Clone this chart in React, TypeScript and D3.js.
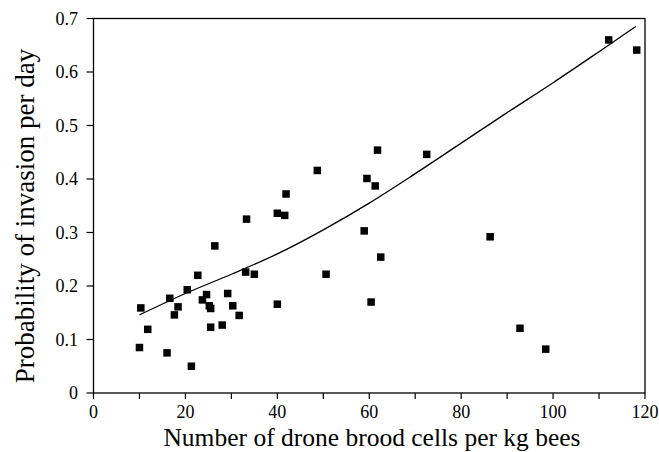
import React from 'react';
import * as d3 from 'd3';

// drone brood cells per kg bees vs probability of invasion per day
const cellsPerKg = [
  10.3, 11.8, 10.0, 16.0, 16.6, 17.6, 18.4, 20.4, 21.3, 22.7, 23.7, 24.6,
  25.2, 25.5, 25.5, 26.4, 28.0, 29.2, 30.3, 31.7, 33.3, 33.1, 35.0, 40.0,
  41.6, 41.9, 40.0, 48.7, 50.6, 58.9, 59.5, 60.4, 61.3, 61.8, 62.5, 72.5,
  86.3, 92.8, 98.4, 112.1, 118.2,
];
const invasionProb = [
  0.159, 0.119, 0.085, 0.075, 0.177, 0.146, 0.161, 0.193, 0.050, 0.220, 0.174, 0.184,
  0.163, 0.158, 0.123, 0.275, 0.127, 0.186, 0.163, 0.145, 0.325, 0.226, 0.222, 0.336,
  0.332, 0.372, 0.166, 0.416, 0.222, 0.303, 0.401, 0.170, 0.387, 0.454, 0.254, 0.446,
  0.292, 0.121, 0.082, 0.660, 0.641,
];

// fitted curve
const fitX = [10, 20, 30, 40, 50, 60, 70, 80, 90, 100, 110, 118];
const fitY = [0.146, 0.186, 0.222, 0.26, 0.305, 0.355, 0.41, 0.467, 0.524, 0.58, 0.638, 0.685];

const xTicks = [0, 20, 40, 60, 80, 100, 120];
const xMinor = [10, 30, 50, 70, 90, 110];
const yTicks = [0, 0.1, 0.2, 0.3, 0.4, 0.5, 0.6, 0.7];

const W = 659;
const H = 452;
const FONT = "'Liberation Serif', 'Times New Roman', serif";

export default function App() {
  const x = d3.scaleLinear().domain([0, 120]).range([93.5, 645]);
  const y = d3.scaleLinear().domain([0, 0.7]).range([393, 18.5]);

  const line = d3
    .line<number>()
    .x((_, i) => x(fitX[i]))
    .y((d) => y(d))
    .curve(d3.curveMonotoneX);

  const [x0, x1] = x.range();
  const [y0, y1] = y.range();
  const size = 7.5;

  return (
    <svg
      width={W}
      height={H}
      style={{ position: 'absolute', left: 0, top: 0, background: '#fff', fontFamily: FONT }}
    >
      {/* frame */}
      <rect x={x0} y={y1} width={x1 - x0} height={y0 - y1} fill="none" stroke="#000" strokeWidth={1.3} />

      {/* x ticks */}
      {xTicks.map((t) => (
        <g key={'xt' + t}>
          <line x1={x(t)} x2={x(t)} y1={y0} y2={y0 + 6} stroke="#000" strokeWidth={1.2} />
          <text x={x(t)} y={418} textAnchor="middle" fontSize={18}>
            {t}
          </text>
        </g>
      ))}
      {xMinor.map((t) => (
        <line key={'xm' + t} x1={x(t)} x2={x(t)} y1={y0} y2={y0 + 6} stroke="#000" strokeWidth={1.2} />
      ))}

      {/* y ticks */}
      {yTicks.map((t) => (
        <g key={'yt' + t}>
          <line x1={x0 - 7} x2={x0} y1={y(t)} y2={y(t)} stroke="#000" strokeWidth={1.2} />
          <text x={78} y={y(t)} dy="0.35em" textAnchor="end" fontSize={18}>
            {t === 0 ? '0' : d3.format('.1f')(t)}
          </text>
        </g>
      ))}

      {/* fitted curve */}
      <path d={line(fitY) ?? ''} fill="none" stroke="#000" strokeWidth={1.3} />

      {/* observations */}
      {cellsPerKg.map((c, i) => (
        <rect
          key={'p' + i}
          x={x(c) - size / 2}
          y={y(invasionProb[i]) - size / 2}
          width={size}
          height={size}
          fill="#000"
        />
      ))}

      {/* axis titles */}
      <text x={372} y={446} textAnchor="middle" fontSize={25.5}>
        Number of drone brood cells per kg bees
      </text>
      <text transform="translate(34,216) rotate(-90)" textAnchor="middle" fontSize={27}>
        Probability of invasion per day
      </text>
    </svg>
  );
}
